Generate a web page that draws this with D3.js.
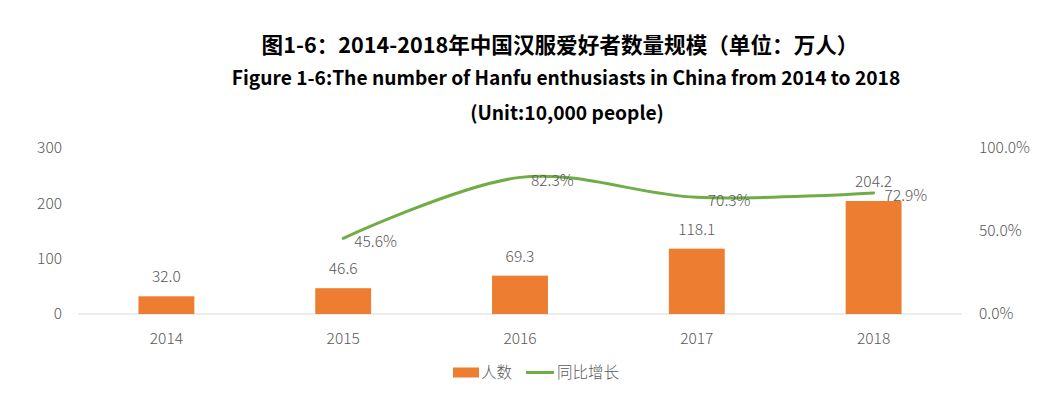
<!DOCTYPE html>
<html><head><meta charset="utf-8">
<script src="https://cdn.jsdelivr.net/npm/d3@7"></script>
<style>
body{margin:0;background:#fff;}
text{font-family:"Noto Sans CJK SC","Noto Sans",sans-serif;}
</style></head>
<body><svg id="c" width="1063" height="404"></svg>
<script>
const categories = ["2014","2015","2016","2017","2018"];
const people = [32.0, 46.6, 69.3, 118.1, 204.2];
const growth = [null, 45.6, 82.3, 70.3, 72.9];
const leftTicks = [0, 100, 200, 300];
const rightTicks = [0, 50, 100];
const titleCn = "图1-6：2014-2018年中国汉服爱好者数量规模（单位：万人）";
const titleEn = "Figure 1-6:The number of Hanfu enthusiasts in China from 2014 to 2018";
const titleUnit = "(Unit:10,000 people)";
const legendNames = ["人数", "同比增长"];

const svg = d3.select("#c");
const plot = {left: 78, right: 962, top: 148, bottom: 314};
const x = d3.scaleBand().domain(categories).range([plot.left, plot.right]).paddingInner(0.684).paddingOuter(0.342);
const xc = d => x(d) + x.bandwidth()/2;
const yL = d3.scaleLinear().domain([0, 300]).range([plot.bottom, plot.top]);
const yR = d3.scaleLinear().domain([0, 100]).range([plot.bottom, plot.top]);
const grey = "#595959";
const fs = 15.5;

// titles
svg.append("text").attr("x", 560).attr("y", 53).attr("text-anchor","middle")
  .attr("font-size", 21.6).attr("font-weight","bold").attr("fill","#000").text(titleCn);
svg.append("text").attr("x", 566).attr("y", 85).attr("text-anchor","middle")
  .attr("font-size", 19.2).attr("font-weight","bold").attr("fill","#000").text(titleEn);
svg.append("text").attr("x", 567).attr("y", 120).attr("text-anchor","middle")
  .attr("font-size", 19.2).attr("font-weight","bold").attr("fill","#000").text(titleUnit);

function styleAxisText(g){
  g.select(".domain").remove();
  g.selectAll("text").attr("font-size", fs).attr("fill", grey)
    .attr("font-family","\"Noto Sans CJK SC\",sans-serif").attr("font-weight",300);
}

// left axis
const gL = svg.append("g").attr("transform", `translate(${plot.left},0)`)
  .call(d3.axisLeft(yL).tickValues(leftTicks).tickSize(0).tickPadding(16).tickFormat(d3.format("d")));
styleAxisText(gL);

// right axis
const gR = svg.append("g").attr("transform", `translate(${plot.right},0)`)
  .call(d3.axisRight(yR).tickValues(rightTicks).tickSize(0).tickPadding(17).tickFormat(d => d.toFixed(1)+"%"));
styleAxisText(gR);

// baseline
svg.append("line").attr("x1", plot.left).attr("x2", plot.right).attr("y1", plot.bottom).attr("y2", plot.bottom)
  .attr("stroke", "#d9d9d9").attr("stroke-width", 1);

// x axis
const gX = svg.append("g").attr("transform", `translate(0,${plot.bottom})`)
  .call(d3.axisBottom(x).tickSize(0).tickPadding(19));
styleAxisText(gX);

// bars
svg.selectAll("rect.bar").data(people).enter().append("rect").attr("class","bar")
  .attr("x", (d,i) => x(categories[i])).attr("width", x.bandwidth())
  .attr("y", d => yL(d)).attr("height", d => yL(0) - yL(d)).attr("fill", "#ED7D31");

// bar labels
svg.selectAll("text.blab").data(people).enter().append("text").attr("class","blab")
  .attr("x", (d,i) => xc(categories[i])).attr("y", d => yL(d) - 14)
  .attr("text-anchor","middle").attr("font-size", fs).attr("font-weight",300).attr("fill", grey)
  .text(d => d.toFixed(1));

// line
const pts = growth.map((g,i) => g == null ? null : [xc(categories[i]), yR(g)]).filter(p => p);
svg.append("path").attr("d", d3.line().curve(d3.curveCardinal.tension(0))(pts))
  .attr("fill","none").attr("stroke","#70AD47").attr("stroke-width", 3).attr("stroke-linecap","round");

// line labels (positioned to the right of each point)
growth.forEach((g,i) => {
  if (g == null) return;
  svg.append("text").attr("class","llab")
    .attr("x", xc(categories[i]) + 11).attr("y", yR(g) + 8.5)
    .attr("font-size", fs).attr("font-weight",300).attr("fill", grey)
    .text(g.toFixed(1) + "%");
});

// legend
const lg = svg.append("g");
lg.append("rect").attr("x", 453).attr("y", 367.5).attr("width", 26).attr("height", 10).attr("fill","#ED7D31");
lg.append("text").attr("x", 481).attr("y", 378).attr("font-size", fs).attr("font-weight",300).attr("fill", grey).text(legendNames[0]);
lg.append("line").attr("x1", 526).attr("x2", 554).attr("y1", 372.5).attr("y2", 372.5).attr("stroke","#70AD47").attr("stroke-width",3);
lg.append("text").attr("x", 557).attr("y", 378).attr("font-size", fs).attr("font-weight",300).attr("fill", grey).text(legendNames[1]);
</script></body></html>
